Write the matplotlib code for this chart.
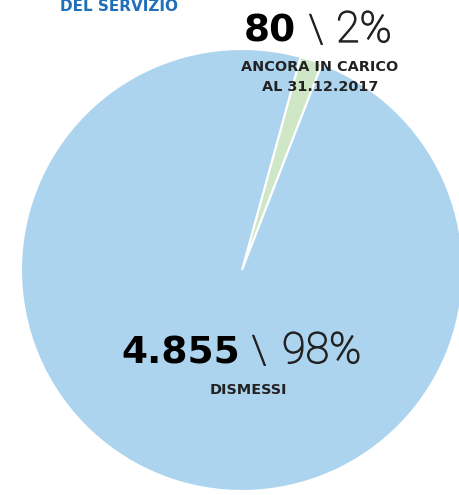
import matplotlib.pyplot as plt
import matplotlib.patheffects as pe

# data
labels = ['ANCORA IN CARICO\nAL 31.12.2017', 'DISMESSI']
counts = [80, 4855]
count_text = ['80', '4.855']
pct_text = ['2%', '98%']
colors = ['#cfe7c6', '#acd4ef']

W, H = 459, 495
fig = plt.figure(figsize=(W / 100, H / 100), dpi=100)
ax = fig.add_axes([0, 0, 1, 1])

# pie in pixel coordinates (y measured from bottom)
ax.pie(counts, colors=colors, startangle=68.8, counterclock=True,
       center=(242, H - 270), radius=221,
       wedgeprops=dict(edgecolor='white', linewidth=1.5))
ax.set_xlim(0, W)
ax.set_ylim(0, H)
ax.set_aspect('equal')
ax.axis('off')

bold = 'DejaVu Sans'
light = 'Roboto'
thicken = [pe.withStroke(linewidth=0.9, foreground='#222222')]

# header cut at the top
ax.text(119, H - 11, 'DEL SERVIZIO', ha='center', va='baseline', fontsize=11,
        fontweight='bold', color='#1f6fba', family=bold)

# small slice label
ax.text(296, H - 42, count_text[0], ha='right', va='baseline', fontsize=27,
        fontweight='bold', color='black', family=bold)
ax.text(316, H - 42, '\\', ha='center', va='baseline', fontsize=28,
        fontweight='light', color='#222222', family=light, path_effects=thicken)
ax.text(336, H - 42, pct_text[0], ha='left', va='baseline', fontsize=31,
        fontweight='light', color='#222222', family=light, path_effects=thicken)
ax.text(320, H - 91, labels[0], ha='center', va='baseline', fontsize=10.4,
        fontweight='bold', color='#222222', family=bold, linespacing=1.55)

# big slice label
ax.text(240, H - 363, count_text[1], ha='right', va='baseline', fontsize=27,
        fontweight='bold', color='black', family=bold)
ax.text(259, H - 363, '\\', ha='center', va='baseline', fontsize=28,
        fontweight='light', color='#222222', family=light, path_effects=thicken)
ax.text(282, H - 363, pct_text[1], ha='left', va='baseline', fontsize=31,
        fontweight='light', color='#222222', family=light, path_effects=thicken)
ax.text(248, H - 394, labels[1], ha='center', va='baseline', fontsize=10.4,
        fontweight='bold', color='#222222', family=bold)

fig.savefig('out.png', dpi=100)
